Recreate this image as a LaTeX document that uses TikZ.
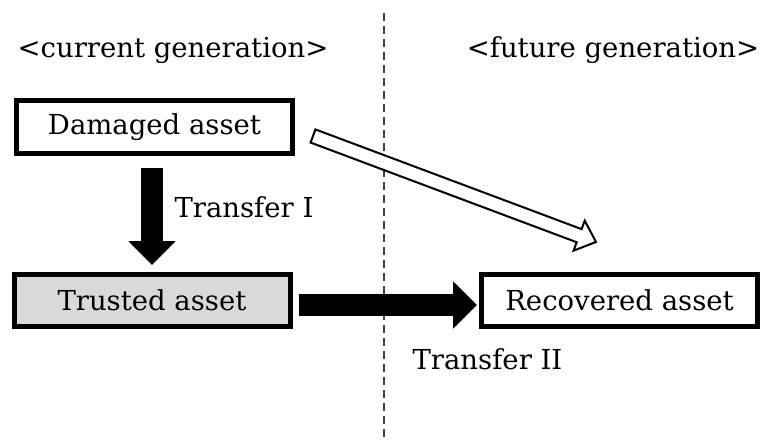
\documentclass[tikz,border=0pt]{standalone}
\usepackage{fontspec}
\setmainfont{DejaVu Serif}
\usetikzlibrary{arrows.meta,calc}
\begin{document}
\begin{tikzpicture}[x=1pt,y=-1pt,
  lbl/.style={inner sep=0pt,font=\fontsize{27.5}{30}\selectfont},
  assetbox/.style={draw,line width=5pt,minimum width=276pt,minimum height=52pt,inner sep=0pt,font=\fontsize{27.5}{30}\selectfont},
  blockarrow/.style={line width=22pt,-{Triangle[width=46pt,length=24pt]}},
  divider/.style={draw=black!75,line width=1.3pt,dash pattern=on 8pt off 5pt}]
\useasboundingbox (0,0) rectangle (770,441);
\fill[white] (0,0) rectangle (770,441);
% divider
\coordinate (dtop) at (384,13);
\coordinate (dbot) at (384,441);
\draw[divider] (dtop) -- (dbot);
% headings
\node[lbl] (cur) at (173,50) {<current generation>};
\node[lbl] (fut) at (613,50) {<future generation>};
% boxes
\node[assetbox] (dam) at (154.5,127) {Damaged asset};
\node[assetbox,fill=black!15] (tru) at (152,300) {Trusted asset};
\node[assetbox] (rec) at (619.5,300) {Recovered asset};
% black arrows
\coordinate (t1s) at (152,168);
\coordinate (t1e) at (152,265);
\draw[blockarrow] (t1s) -- (t1e);
\coordinate (t2s) at (299,305);
\coordinate (t2e) at (477,305);
\draw[blockarrow] (t2s) -- (t2e);
\node[lbl] (tI) at (244,207) {Transfer I};
\node[lbl] (tII) at (487.5,359) {Transfer II};
% hollow arrow
\coordinate (ha) at (313,136);
\coordinate (hb) at (596,242);
\coordinate (hh) at ($(hb)!18pt!(ha)$);
\draw[line width=2pt,line join=miter,fill=white]
  ($(ha)!7pt!90:(hb)$) -- ($(hh)!7pt!-90:(ha)$) -- ($(hh)!16pt!-90:(ha)$) -- (hb)
  -- ($(hh)!16pt!90:(ha)$) -- ($(hh)!7pt!90:(ha)$) -- ($(ha)!7pt!-90:(hb)$) -- cycle;
\end{tikzpicture}
\end{document}
